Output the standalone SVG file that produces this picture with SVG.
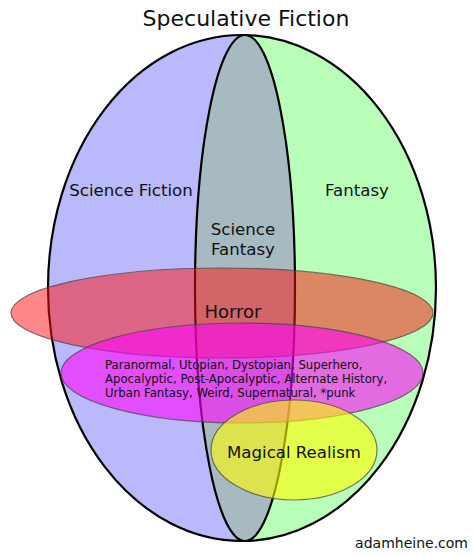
<svg xmlns="http://www.w3.org/2000/svg" width="474" height="557" viewBox="0 0 474 557">
<style>
text{font-family:"DejaVu Sans","Liberation Sans",sans-serif;fill:#111}
.big{font-size:16.6px}
.small{font-size:11.7px}
.ov{stroke:#444;stroke-width:1.2;stroke-opacity:0.7}
</style>
<rect width="474" height="557" fill="#fff"/>
<text x="246" y="26" font-size="22" text-anchor="middle">Speculative Fiction</text>
<g id="science-fiction-fantasy">
<ellipse cx="242" cy="288" rx="194" ry="253" fill="#b9ffb9"/>
<path d="M243 35 A194 253 0 0 0 243 541 Z" fill="#b9b9fb"/>
<ellipse cx="242" cy="288" rx="194" ry="253" fill="none" stroke="#000" stroke-width="2.2"/>
<text class="big" x="131" y="196" text-anchor="middle">Science Fiction</text>
<text class="big" x="357" y="196" text-anchor="middle">Fantasy</text>
</g>
<g id="science-fantasy">
<ellipse cx="245" cy="288" rx="50" ry="253" fill="#a7b9c1" stroke="#000" stroke-width="2.2"/>
<text class="big" x="243" y="235" text-anchor="middle">Science</text>
<text class="big" x="243" y="255" text-anchor="middle">Fantasy</text>
</g>
<g id="horror">
<ellipse class="ov" cx="222" cy="313" rx="211" ry="45" fill="#ff1010" fill-opacity="0.5"/>
<text x="233" y="318" font-size="18" text-anchor="middle">Horror</text>
</g>
<g id="subgenres">
<ellipse class="ov" cx="242" cy="373" rx="181" ry="50" fill="#ff00ff" fill-opacity="0.58"/>
<text class="small" x="105" y="369">Paranormal, Utopian, Dystopian, Superhero,</text>
<text class="small" x="105" y="383">Apocalyptic, Post-Apocalyptic, Alternate History,</text>
<text class="small" x="105" y="397">Urban Fantasy, Weird, Supernatural, *punk</text>
</g>
<g id="magical-realism">
<ellipse class="ov" cx="294" cy="450" rx="83" ry="50" fill="#ffff00" fill-opacity="0.6"/>
<text class="big" x="294" y="458" text-anchor="middle">Magical Realism</text>
</g>
<text x="468" y="548" font-size="14" text-anchor="end">adamheine.com</text>
</svg>
